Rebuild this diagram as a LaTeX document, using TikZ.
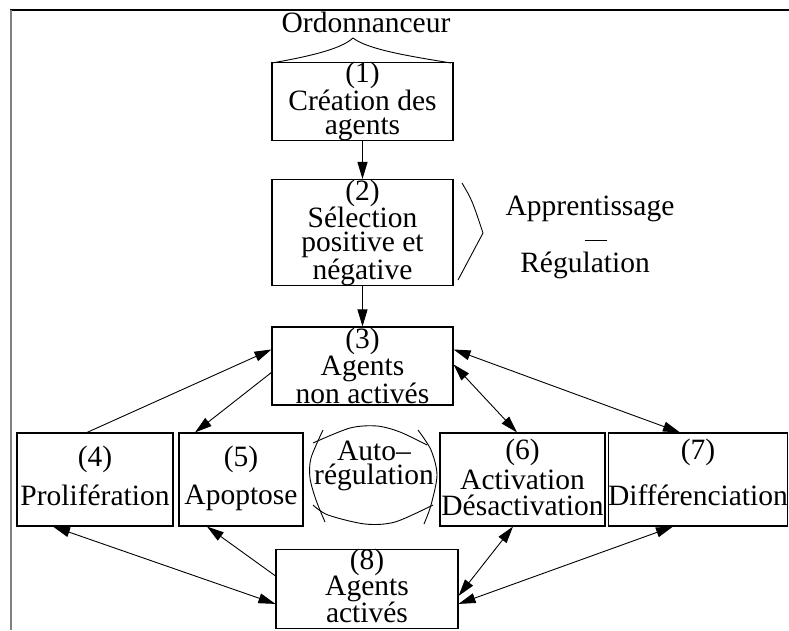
\documentclass[tikz,border=0pt]{standalone}
\usepackage{fontspec}
\setmainfont{Liberation Serif}
\usepackage{tikz}
\usetikzlibrary{arrows.meta}

\newcommand{\boxfont}{\fontsize{29.5}{23.5}\selectfont}

\begin{document}
\begin{tikzpicture}[x=1pt,y=-1pt,
    box/.style={draw,line width=1.1pt,inner sep=0pt,align=center,font=\boxfont},
    link/.style={line width=0.9pt,-{Triangle[length=17pt,width=10pt]}},
    both/.style={line width=0.9pt,{Triangle[length=17pt,width=10pt]}-{Triangle[length=17pt,width=10pt]}}]
        \useasboundingbox (0,0) rectangle (789,630);

        % Frame
        \draw[line width=1.5pt] (10,10) -- (789,10);
        \draw[gray,line width=2pt] (10.5,10) -- (10.5,630);

        % Boxes
        \node[box,minimum width=181pt,minimum height=73pt] (b1) at (362.5,101.5)
            {(1)\\Création des\\agents};
        \node[box,minimum width=181pt,minimum height=101pt] (b2) at (362.5,232.5)
            {(2)\\Sélection\\positive et\\négative};
        \node[box,minimum width=181pt,minimum height=78pt] (b3) at (362.5,366)
            {(3)\\Agents\\non activés};
        \node[box,minimum width=156pt,minimum height=93pt] (b4) at (95,479.5)
            {(4)\\[11pt]Prolifération\rule[-8pt]{0pt}{0pt}};
        \node[box,minimum width=124pt,minimum height=93pt] (b5) at (241,479.5)
            {(5)\\[11pt]Apoptose\rule[-8pt]{0pt}{0pt}};
        \node[box,minimum width=165pt,minimum height=93pt] (b6) at (522.5,479.5)
            {(6)\\[3pt]Activation\\[3pt]Désactivation\rule[-4pt]{0pt}{0pt}};
        \node[box,minimum width=178pt,minimum height=93pt] (b7) at (698,479.5)
            {(7)\\[18pt]Différenciation\rule[-15pt]{0pt}{0pt}};
        \node[box,minimum width=182pt,minimum height=78pt] (b8) at (367,589)
            {(8)\\[-1pt]Agents\\[-1pt]activés\rule[-6pt]{0pt}{0pt}};

        % Scheduler and learning labels
        \node[anchor=base,font=\boxfont] (ordo) at (366,32) {Ordonnanceur};
        \draw[line width=0.9pt] (272,63) .. controls (305,57) and (340,50) .. (353,38)
            .. controls (368,50) and (415,57) .. (451,63);
        \node[anchor=base,font=\boxfont] (appr) at (590,215) {Apprentissage};
        \node[anchor=base,font=\boxfont] (regu) at (585,272) {Régulation};
        \draw[line width=0.9pt] (585,240) -- (607,240);
        \draw[line width=0.9pt] (462,183) .. controls (472,200) .. (483,233) -- (458,280);

        % Auto-regulation loop
        \node[align=center,inner sep=0pt,font=\boxfont] (auto) at (374,466)
            {Auto–\\régulation};
        \draw[line width=0.9pt] plot[smooth] coordinates {(313,443) (350,428) (377,426) (400,432) (427,445)};
        \draw[line width=0.9pt] plot[smooth] coordinates {(418,430) (431,450) (437,475) (431,505) (424,524)};
        \draw[line width=0.9pt] plot[smooth] coordinates {(433,505) (395,522) (365,524) (328,515) (313,505)};
        \draw[line width=0.9pt] plot[smooth] coordinates {(323,430) (311,458) (310,478) (316,500) (325,522)};

        % Links
        \draw[link] (b1.south) -- (b2.north);
        \draw[link] (b2.south) -- (b3.north);
        \draw[link] ([xshift=-8pt]b4.north) -- ([yshift=-23pt]b3.north west);
        \draw[link] ([yshift=-46pt]b3.north west) -- ([xshift=-46pt]b5.north);
        \draw[both] ([yshift=-38pt]b3.north east) -- ([xshift=-5.5pt]b6.north);
        \draw[both] ([yshift=-23pt]b3.north east) -- ([xshift=-18pt]b7.north);
        \draw[both] ([yshift=-55pt]b8.north west) -- ([xshift=-42pt]b4.south);
        \draw[link] ([yshift=-27pt]b8.north west) -- ([xshift=-34pt]b5.south);
        \draw[both] ([yshift=-47pt]b8.north east) -- ([xshift=-9.5pt]b6.south);
        \draw[both] ([yshift=-55pt]b8.north east) -- ([xshift=-25pt]b7.south);
\end{tikzpicture}
\end{document}
